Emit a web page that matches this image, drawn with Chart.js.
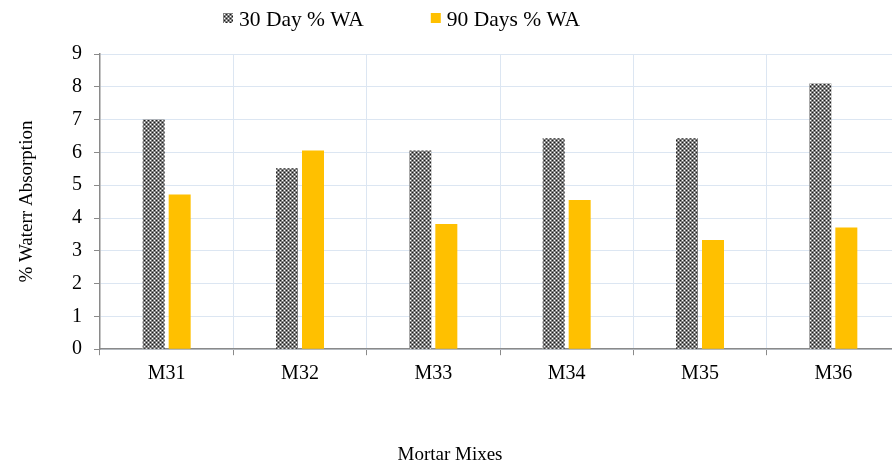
<!DOCTYPE html>
<html>
<head>
<meta charset="utf-8">
<script src="https://cdn.jsdelivr.net/npm/chart.js@4.4.0/dist/chart.umd.min.js"></script>
<style>
html, body { margin: 0; padding: 0; background: #fff; overflow: hidden; }
#wrap { width: 900px; height: 468px; }
</style>
</head>
<body>
<div id="wrap"><canvas id="waChart" width="900" height="468"></canvas></div>
<script>
// water absorption of mortar mixes
const mixes = ['M31', 'M32', 'M33', 'M34', 'M35', 'M36'];
const wa30 = [7.0, 5.52, 6.06, 6.43, 6.43, 8.1];
const wa90 = [4.72, 6.06, 3.82, 4.55, 3.33, 3.71];
const seriesNames = ['30 Day % WA', '90 Days % WA'];
const yMin = 0, yMax = 9, yStep = 1;

const serif = 'Liberation Serif';
const axisGray = '#8a8a8a';
const gridBlue = '#dce6f2';

// small checker tile for the 30 day bars
function checkerPattern() {
    const c = document.createElement('canvas');
    c.width = 4; c.height = 4;
    const g = c.getContext('2d');
    g.fillStyle = '#808080'; g.fillRect(0, 0, 4, 4);
    g.fillStyle = '#1a1a1a'; g.fillRect(0, 0, 1, 1); g.fillRect(2, 2, 1, 1);
    g.fillStyle = '#ffffff'; g.fillRect(2, 0, 1, 1); g.fillRect(0, 2, 1, 1);
    return g.createPattern(c, 'repeat');
}

// legend drawn by hand so it sits left of centre like the original
const topLegend = {
    id: 'topLegend',
    afterDraw(chart) {
        const ctx = chart.ctx;
        ctx.save();
        ctx.font = '21.5px "' + serif + '"';
        ctx.textBaseline = 'middle';
        let x = 223;
        chart.data.datasets.forEach(ds => {
            ctx.fillStyle = ds.backgroundColor;
            ctx.fillRect(x, 13, 10, 10);
            ctx.fillStyle = '#000';
            ctx.fillText(ds.label, x + 16, 20);
            x += 16 + ctx.measureText(ds.label).width + 67;
        });
        ctx.restore();
    }
};

document.addEventListener('DOMContentLoaded', function() {
    const ctx = document.getElementById('waChart');
    new Chart(ctx, {
        type: 'bar',
        data: {
            labels: mixes,
            datasets: [{
                label: seriesNames[0],
                data: wa30,
                backgroundColor: checkerPattern(),
                borderWidth: 0
            }, {
                label: seriesNames[1],
                data: wa90,
                backgroundColor: '#ffc000',
                borderWidth: 0
            }]
        },
        options: {
            responsive: false,
            animation: false,
            devicePixelRatio: 1,
            datasets: { bar: { categoryPercentage: 0.39, barPercentage: 0.846 } },
            layout: { padding: { top: 54, left: 0, right: 0, bottom: 0 } },
            plugins: {
                legend: { display: false },
                tooltip: { enabled: false },
                // x axis title: centred on the whole page, not the plot
                title: {
                    display: true, position: 'bottom', text: 'Mortar Mixes', color: '#000',
                    font: { family: serif, size: 19, weight: 'normal' }, padding: { top: 0, bottom: 2 }
                }
            },
            scales: {
                x: {
                    grid: { color: gridBlue, tickColor: axisGray, tickLength: 6, offset: true },
                    border: { color: axisGray, width: 1.5 },
                    ticks: { color: '#000', font: { family: serif, size: 20 }, padding: 7, maxRotation: 0 },
                    afterFit(scale) { scale.height = 94; }
                },
                y: {
                    min: yMin, max: yMax,
                    grid: { color: gridBlue, tickColor: axisGray, tickLength: 6 },
                    border: { color: axisGray, width: 1.5 },
                    ticks: { stepSize: yStep, color: '#000', font: { family: serif, size: 20 }, padding: 12 },
                    title: {
                        display: true, text: '% Waterr Absorption', color: '#000',
                        font: { family: serif, size: 19 }, padding: { top: 16, bottom: 0 }
                    },
                    afterFit(scale) { scale.width = 100; }
                }
            }
        },
        plugins: [topLegend]
    });
});
</script>
</body>
</html>
